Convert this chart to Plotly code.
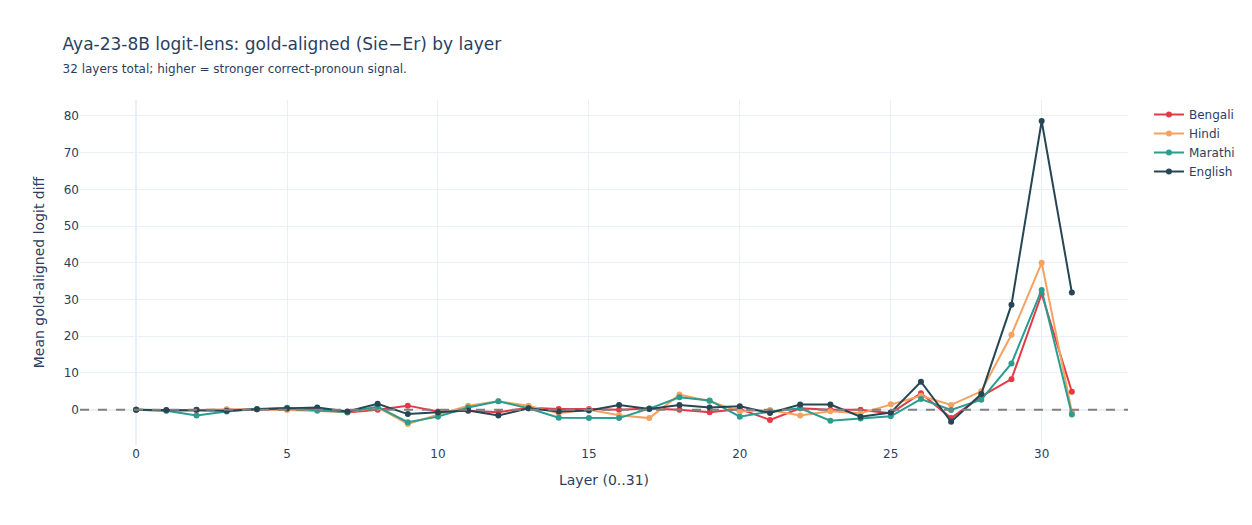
import plotly.graph_objects as go

layers = list(range(32))
bengali = [0, -0.2, -0.1, 0.0, 0.1, 0.1, 0.2, -0.8, 0.0, 1.1, -0.5, -0.3, -0.7, 0.5, 0.2, 0.2,
           0.0, 0.3, 0.0, -0.7, 0.2, -2.8, 0.4, 0.0, 0.0, -1.0, 4.5, -2.3, 3.6, 8.3, 31.5, 4.9]
hindi = [0, -0.2, -0.1, 0.1, 0.1, -0.1, -0.3, -0.6, 0.6, -3.9, -1.4, 1.1, 2.3, 1.1, -1.0, 0.0,
         -1.5, -2.3, 4.1, 2.3, -0.5, -0.1, -1.6, -0.4, -1.0, 1.5, 3.8, 1.3, 5.0, 20.4, 40.0, -0.6]
marathi = [0, -0.3, -1.6, -0.5, 0.2, 0.5, -0.2, -0.6, 0.8, -3.4, -1.9, 0.6, 2.3, 0.4, -2.2, -2.3,
           -2.3, 0.3, 3.4, 2.5, -1.9, -0.5, 0.4, -3.0, -2.4, -1.8, 2.9, -0.1, 2.7, 12.6, 32.6, -1.3]
english = [0, -0.1, 0.0, -0.3, 0.1, 0.3, 0.6, -0.5, 1.6, -1.2, -0.8, -0.2, -1.6, 0.4, -0.5, -0.2,
           1.3, 0.2, 1.3, 0.6, 0.9, -0.9, 1.4, 1.4, -1.9, -0.8, 7.6, -3.3, 4.3, 28.6, 78.6, 31.9]

series = [("Bengali", bengali, "#E63946"), ("Hindi", hindi, "#F4A261"),
          ("Marathi", marathi, "#2A9D8F"), ("English", english, "#264653")]

fig = go.Figure()
for name, vals, color in series:
    fig.add_trace(go.Scatter(x=layers, y=vals, mode="lines+markers", name=name,
                             line=dict(color=color, width=2), marker=dict(size=6, color=color)))

fig.add_hline(y=0, line_dash="dash", line_color="gray", line_width=2)

fig.update_layout(
    template="plotly_white",
    width=1252, height=525,
    font=dict(family="Verdana, DejaVu Sans, sans-serif"),
    title=dict(text="Aya-23-8B logit-lens: gold-aligned (Sie\u2212Er) by layer",
               subtitle=dict(text="32 layers total; higher = stronger correct-pronoun signal.")),
    xaxis=dict(title="Layer (0..31)", dtick=5),
    yaxis=dict(title="Mean gold-aligned logit diff", dtick=10),
)

fig.write_html("out.html")
